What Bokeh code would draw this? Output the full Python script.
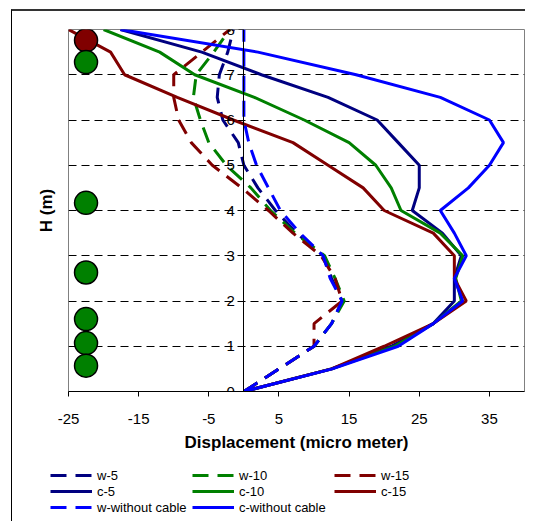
from bokeh.plotting import figure
from bokeh.layouts import column
from bokeh.models import Range1d, FixedTicker, Legend, LegendItem, Title
from bokeh.embed import file_html
from bokeh.resources import INLINE

# ---- data ----
heights = [0, 0.5, 1, 1.5, 2, 2.5, 3, 3.5, 4, 4.5, 5, 5.5, 6, 6.5, 7, 7.5, 8]

w_5 = [0, 5, 10, 12.5, 14, 12.5, 11.3, 7.5, 4.5, 2, 0, -0.8, -3, -3.8, -3.5, -2.3, -1.5]
w_10 = [0, 5, 10, 12.5, 14.3, 13, 11.5, 7.3, 3.8, 1, -2.5, -5, -6.2, -7.2, -6.8, -4.3, -2]
w_15 = [0, 5, 10, 10, 14, 13, 11, 7, 3.5, -0.3, -4.5, -7.5, -9.3, -10, -10, -6, -2]
c_5 = [0, 12.5, 21, 27, 30, 30, 31, 28.3, 24, 25, 25, 22, 19, 12, 2.5, -6, -17.6]
c_10 = [0, 12.5, 21.5, 27, 31, 30.2, 31.2, 28, 22.4, 21, 18.8, 15, 8.6, 1.5, -7, -12, -20]
c_15 = [0, 12.5, 20, 27, 31.7, 30, 30, 27, 20, 17, 12, 7, -1.5, -9.5, -17, -19, -25]
w_without = [0, 5, 10, 12.5, 14, 12.3, 11.3, 8, 5.2, 3.5, 1.8, 0.7, 0, 0, 0, 0, 0]
c_without = [0, 12.6, 22, 27, 31.2, 30, 31.7, 30, 28, 32, 35, 37, 35, 28, 16, 2, -17.6]

anchor_red_x = [-22.5]
anchor_red_y = [7.76]
anchor_green_x = [-22.5, -22.5, -22.5, -22.5, -22.5, -22.5]
anchor_green_y = [7.28, 4.17, 2.63, 1.6, 1.07, 0.57]

x_ticks = [-25, -15, -5, 5, 15, 25, 35]
x_tick_labels = ["-25", "-15", "-5", "5", "15", "25", "35"]
y_ticks = [0, 1, 2, 3, 4, 5, 6, 7, 8]
y_tick_labels = ["0", "1", "2", "3", "4", "5", "6", "7", "8"]

series_names = ["w-5", "w-10", "w-15", "c-5", "c-10", "c-15", "w-without cable", "c-without cable"]

# ---- styling ----
FONT = "'Liberation Sans', Arial, sans-serif"
NAVY, GREEN, MAROON, BLUE = "#000080", "#008000", "#800000", "#0000FF"
DASH = "16 9"
styles_list = [(NAVY, DASH), (GREEN, DASH), (MAROON, DASH),
               (NAVY, "solid"), (GREEN, "solid"), (MAROON, "solid"),
               (BLUE, DASH), (BLUE, "solid")]
series_values = [w_5, w_10, w_15, c_5, c_10, c_15, w_without, c_without]

p = figure(width=513, height=450, x_range=Range1d(-25, 40), y_range=Range1d(0, 8),
           output_backend="svg", toolbar_location=None,
           min_border_left=56, min_border_right=1, min_border_top=18, min_border_bottom=70)
p.frame_align = False

p.outline_line_color = "#808080"
p.outline_line_width = 1
p.xgrid.visible = False
p.ygrid.ticker = FixedTicker(ticks=y_ticks)
p.ygrid.grid_line_color = "black"
p.ygrid.grid_line_dash = "8 5"
p.ygrid.grid_line_width = 1

xa = p.xaxis[0]
xa.ticker = FixedTicker(ticks=x_ticks)
xa.major_label_overrides = dict(zip(x_ticks, x_tick_labels))
xa.axis_line_color = "black"
xa.major_tick_line_color = "black"
xa.major_tick_in = 0
xa.major_tick_out = 5
xa.minor_tick_line_color = None
xa.major_label_text_font = FONT
xa.major_label_text_font_size = "15px"
xa.major_label_text_color = "black"
xa.major_label_standoff = 17
xa.axis_label = "Displacement (micro meter)"
xa.axis_label_text_font = FONT
xa.axis_label_text_font_style = "bold"
xa.axis_label_text_font_size = "17px"
xa.axis_label_text_color = "black"
xa.axis_label_standoff = 6

ya = p.yaxis[0]
ya.fixed_location = 0
ya.ticker = FixedTicker(ticks=y_ticks)
ya.major_label_overrides = dict(zip(y_ticks, y_tick_labels))
ya.axis_line_color = "black"
ya.major_tick_line_color = "black"
ya.major_tick_in = 0
ya.major_tick_out = 5
ya.minor_tick_line_color = None
ya.major_label_text_font = FONT
ya.major_label_text_font_size = "15px"
ya.major_label_text_color = "black"
ya.major_label_standoff = 4

p.add_layout(Title(text="H (m)", align="center", text_font=FONT, text_font_style="bold",
                   text_font_size="17px", text_color="black", standoff=25), "left")

for vals, (col, dash) in zip(series_values, styles_list):
    p.line(x=vals, y=heights, line_color=col, line_width=3, line_dash=dash)

p.scatter(x=anchor_red_x, y=anchor_red_y, marker="circle", size=23,
          fill_color=MAROON, line_color="black", line_width=1.5)
p.scatter(x=anchor_green_x, y=anchor_green_y, marker="circle", size=23,
          fill_color=GREEN, line_color="black", line_width=1.5)

# ---- legend strip below the chart (its own ranges keep the series out of view) ----
pl = figure(width=513, height=60, output_backend="svg", toolbar_location=None,
            x_range=Range1d(1000, 1001), y_range=Range1d(1000, 1001),
            x_axis_location=None, y_axis_location=None, min_border=0,
            outline_line_color=None)
pl.frame_align = False
pl.xgrid.visible = False
pl.ygrid.visible = False
legend_renderers = []
for vals, (col, dash) in zip(series_values, styles_list):
    legend_renderers.append(pl.line(x=vals, y=heights, line_color=col, line_width=3, line_dash=dash))

items = [LegendItem(label=n, renderers=[r]) for n, r in zip(series_names, legend_renderers)]
legend = Legend(items=items, location=(38, 6), orientation="horizontal", ncols=3,
                glyph_width=42, glyph_height=16, label_height=16, label_width=95,
                label_standoff=5, spacing=0, padding=0, margin=0,
                border_line_color=None, background_fill_alpha=0,
                label_text_font=FONT, label_text_font_size="13px", label_text_color="black")
pl.add_layout(legend, "center")

layout = column(p, pl, spacing=0,
                styles={"border-top": "2px solid #333333", "border-left": "1px solid #000000",
                        "margin-left": "11px", "margin-top": "9px"})

open("out.html", "w").write(file_html(layout, INLINE))
